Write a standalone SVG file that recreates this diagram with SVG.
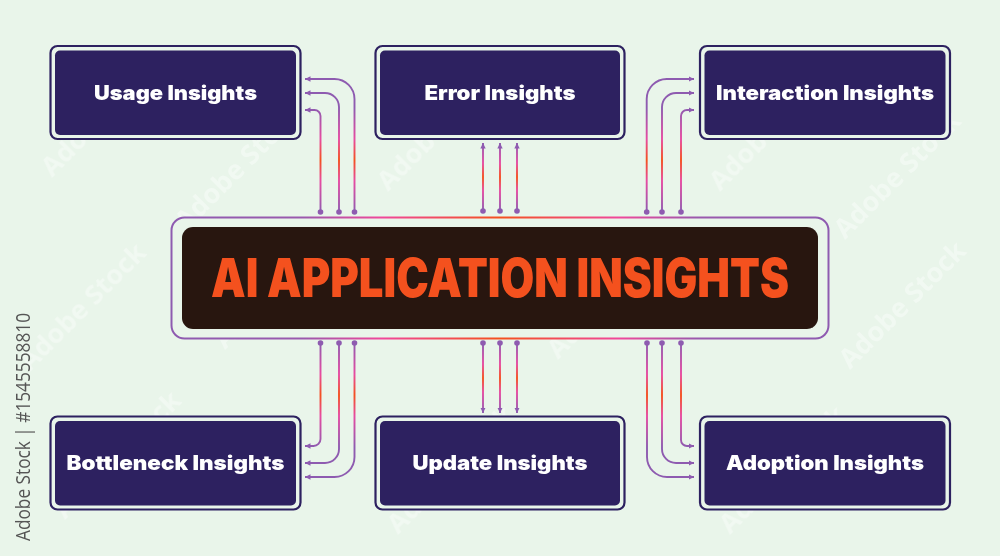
<svg xmlns="http://www.w3.org/2000/svg" width="1000" height="556" viewBox="0 0 1000 556">
<style>
.bg{fill:#e9f5ea}
.o{fill:#e9f5ea;stroke:#2d2160;stroke-width:2.2}
.i{fill:#2d2160}
.t{font-family:Inter,"Liberation Sans",sans-serif;font-weight:900;font-size:20px;fill:#fff;text-anchor:middle}
.c{fill:none;stroke-width:1.9;marker-start:url(#d);marker-end:url(#a)}
.top{stroke:url(#gt)}.topm{stroke:url(#gm)}.bot{stroke:url(#gb)}.botm{stroke:url(#gbm)}
.w{font-family:"Open Sans","Liberation Sans",sans-serif;font-weight:700;font-size:27px;fill:#fff;opacity:.38}
</style>
<defs>
<linearGradient id="gt" gradientUnits="userSpaceOnUse" x1="0" y1="108" x2="0" y2="212"><stop offset="0" stop-color="#8e5bb0"/><stop offset=".3" stop-color="#e74aa2"/><stop offset=".5" stop-color="#f4511e"/><stop offset=".7" stop-color="#e74aa2"/><stop offset="1" stop-color="#8e5bb0"/></linearGradient>
<linearGradient id="gm" gradientUnits="userSpaceOnUse" x1="0" y1="143" x2="0" y2="211"><stop offset="0" stop-color="#8e5bb0"/><stop offset=".3" stop-color="#e74aa2"/><stop offset=".5" stop-color="#f4511e"/><stop offset=".7" stop-color="#e74aa2"/><stop offset="1" stop-color="#8e5bb0"/></linearGradient>
<linearGradient id="gb" gradientUnits="userSpaceOnUse" x1="0" y1="343" x2="0" y2="447"><stop offset="0" stop-color="#8e5bb0"/><stop offset=".3" stop-color="#e74aa2"/><stop offset=".5" stop-color="#f4511e"/><stop offset=".7" stop-color="#e74aa2"/><stop offset="1" stop-color="#8e5bb0"/></linearGradient>
<linearGradient id="gbm" gradientUnits="userSpaceOnUse" x1="0" y1="343" x2="0" y2="413"><stop offset="0" stop-color="#8e5bb0"/><stop offset=".3" stop-color="#e74aa2"/><stop offset=".5" stop-color="#f4511e"/><stop offset=".7" stop-color="#e74aa2"/><stop offset="1" stop-color="#8e5bb0"/></linearGradient>
<linearGradient id="gh" gradientUnits="userSpaceOnUse" x1="171" y1="0" x2="829" y2="0"><stop offset="0" stop-color="#8e5bb0"/><stop offset=".2" stop-color="#9a59ad"/><stop offset=".32" stop-color="#f0479a"/><stop offset=".5" stop-color="#f4511e"/><stop offset=".68" stop-color="#f0479a"/><stop offset=".8" stop-color="#9a59ad"/><stop offset="1" stop-color="#8e5bb0"/></linearGradient>
<marker id="a" markerUnits="userSpaceOnUse" markerWidth="7" markerHeight="7" refX="5.5" refY="3.5" orient="auto"><path d="M0 .8L5.5 3.5L0 6.2Z" fill="#8e5bb0"/></marker>
<marker id="d" markerUnits="userSpaceOnUse" markerWidth="7" markerHeight="7" refX="3.5" refY="3.5"><circle cx="3.5" cy="3.5" r="2.8" fill="#8e5bb0"/></marker>
</defs>
<rect class="bg" width="1000" height="556"/>
<g id="watermark" class="w">
<text transform="translate(52 178) rotate(-45)">Adobe Stock</text>
<text transform="translate(186 232) rotate(-45)">Adobe Stock</text>
<text transform="translate(388 192) rotate(-45)">Adobe Stock</text>
<text transform="translate(720 192) rotate(-45)">Adobe Stock</text>
<text transform="translate(845 240) rotate(-45)">Adobe Stock</text>
<text transform="translate(30 372) rotate(-45)">Adobe Stock</text>
<text transform="translate(225 350) rotate(-45)">Adobe Stock</text>
<text transform="translate(558 360) rotate(-45)">Adobe Stock</text>
<text transform="translate(850 370) rotate(-45)">Adobe Stock</text>
<text transform="translate(65 520) rotate(-45)">Adobe Stock</text>
<text transform="translate(398 535) rotate(-45)">Adobe Stock</text>
<text transform="translate(730 535) rotate(-45)">Adobe Stock</text>
</g>
<g id="connectors">
<path class="c top" d="M320.5 212V116A6 6 0 0 0 314.5 110H305"/>
<path class="c top" d="M339 212V107A14 14 0 0 0 325 93H305"/>
<path class="c top" d="M354.5 212V99A20 20 0 0 0 334.5 79H305"/>
<path class="c topm" d="M483 211V143"/>
<path class="c topm" d="M500 211V143"/>
<path class="c topm" d="M517 211V143"/>
<path class="c top" d="M646.7 212V99A20 20 0 0 1 666.7 79H694"/>
<path class="c top" d="M662 212V107A14 14 0 0 1 676 93H694"/>
<path class="c top" d="M681 212V116A6 6 0 0 1 687 110H694"/>
<path class="c bot" d="M320.5 343V439A7 7 0 0 1 313.5 446H305"/>
<path class="c bot" d="M339 343V449A14 14 0 0 1 325 463H305"/>
<path class="c bot" d="M354.5 343V457A20 20 0 0 1 334.5 477H305"/>
<path class="c botm" d="M483 343V413"/>
<path class="c botm" d="M500 343V413"/>
<path class="c botm" d="M517 343V413"/>
<path class="c bot" d="M647 343V457A20 20 0 0 0 667 477H694"/>
<path class="c bot" d="M662 343V449A14 14 0 0 0 676 463H694"/>
<path class="c bot" d="M681 343V440A6 6 0 0 0 687 446H694"/>
</g>
<g id="center">
<rect x="171.5" y="217.5" width="657" height="121" rx="13" fill="#e9f5ea" stroke="url(#gh)" stroke-width="2"/>
<rect x="182" y="227" width="636" height="102" rx="11" fill="#28160f"/>
<text x="500" y="297" text-anchor="middle" font-family="Inter,'Liberation Sans',sans-serif" font-weight="900" font-size="53" fill="#f4511e" textLength="578" lengthAdjust="spacingAndGlyphs">AI APPLICATION INSIGHTS</text>
</g>
<g id="usage"><rect class="o" x="50.5" y="46" width="250" height="93" rx="7"/><rect class="i" x="55" y="50.5" width="241" height="84.5" rx="5"/><text class="t" x="175.5" y="100" textLength="163" lengthAdjust="spacingAndGlyphs">Usage Insights</text></g>
<g id="error"><rect class="o" x="375.5" y="46" width="249" height="93" rx="7"/><rect class="i" x="380" y="50.5" width="240" height="84.5" rx="5"/><text class="t" x="500" y="100" textLength="151" lengthAdjust="spacingAndGlyphs">Error Insights</text></g>
<g id="interaction"><rect class="o" x="700" y="46" width="250" height="93" rx="7"/><rect class="i" x="704.5" y="50.5" width="241" height="84.5" rx="5"/><text class="t" x="825" y="100" textLength="218" lengthAdjust="spacingAndGlyphs">Interaction Insights</text></g>
<g id="bottleneck"><rect class="o" x="50.5" y="416.5" width="250" height="93" rx="7"/><rect class="i" x="55" y="421" width="241" height="84.5" rx="5"/><text class="t" x="175.5" y="470" textLength="218" lengthAdjust="spacingAndGlyphs">Bottleneck Insights</text></g>
<g id="update"><rect class="o" x="375.5" y="416.5" width="249" height="93" rx="7"/><rect class="i" x="380" y="421" width="240" height="84.5" rx="5"/><text class="t" x="500" y="470" textLength="175" lengthAdjust="spacingAndGlyphs">Update Insights</text></g>
<g id="adoption"><rect class="o" x="700" y="416.5" width="250" height="93" rx="7"/><rect class="i" x="704.5" y="421" width="241" height="84.5" rx="5"/><text class="t" x="825" y="470" textLength="198" lengthAdjust="spacingAndGlyphs">Adoption Insights</text></g>
<text id="credit" transform="translate(30 541) rotate(-90)" font-family="'Open Sans','Liberation Sans',sans-serif" font-size="20" fill="#555" textLength="228" lengthAdjust="spacingAndGlyphs">Adobe Stock | #1545558810</text>
</svg>
